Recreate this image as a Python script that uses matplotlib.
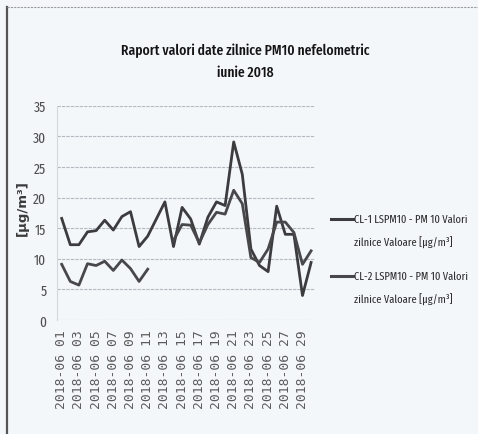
import numpy as np
import matplotlib
matplotlib.use("Agg")
import matplotlib.pyplot as plt
from matplotlib.lines import Line2D

plt.rcParams['font.family'] = ['Fira Sans Extra Condensed', 'DejaVu Sans']

# daily values, june 2018
days = list(range(1, 31))
cl1 = [16.6, 12.3, 12.3, 14.4, 14.6, 16.3, 14.7, 16.9, 17.7, 12.0,
       13.7, 16.5, 19.3, 12.0, 18.4, 16.5, 12.4, 16.8, 19.3, 18.7,
       29.1, 23.8, 11.6, 8.9, 7.9, 18.6, 14.0, 14.0, 4.0, 9.4]
cl2 = [9.1, 6.3, 5.7, 9.2, 8.9, 9.6, 8.1, 9.8, 8.4, 6.3,
       8.3, np.nan, np.nan, 13.0, 15.6, 15.5, 12.6, 15.6, 17.6, 17.3,
       21.2, 19.0, 10.2, 9.4, 11.6, 16.0, 16.0, 14.3, 9.1, 11.3]
tick_days = days[::2]
tick_labels = [f"2018-06 {d:02d}" for d in tick_days]
legend_labels = ["CL-1 LSPM10 - PM 10 Valori\nzilnice Valoare [\u00b5g/m\u00b3]",
                 "CL-2 LSPM10 - PM 10 Valori\nzilnice Valoare [\u00b5g/m\u00b3]"]
title = "Raport valori date zilnice PM10 nefelometric\niunie 2018"

W, H = 478, 435
bg = '#f4f7fa'
fig = plt.figure(figsize=(W / 100, H / 100), dpi=100, facecolor=bg)
ax = fig.add_axes([57.4 / W, 1 - 321 / H, 258 / W, 214.2 / H], facecolor=bg)

line_colors = ['#3c3c3e', '#48484b']
ax.plot(days, cl1, color=line_colors[0], linewidth=2.0)
ax.plot(days, cl2, color=line_colors[1], linewidth=2.0)

ax.set_xlim(0.5, 30.5)
ax.set_ylim(0, 35)
ax.set_yticks(range(0, 36, 5))
ax.yaxis.grid(True, color='#b4b9c2', linewidth=0.8, linestyle=(0, (3, 1)))
ax.set_axisbelow(True)
for s in ['top', 'right', 'bottom']:
    ax.spines[s].set_visible(False)
ax.spines['left'].set_color('#d3d6db')
ax.spines['left'].set_linewidth(0.8)
ax.tick_params(axis='both', length=0, colors='#505050')
ax.tick_params(axis='y', labelsize=10.5, pad=8)
ax.set_xticks(tick_days)
ax.set_xticklabels(tick_labels, rotation=90, fontsize=9.4,
                   family=['DejaVu Sans Mono'], color='#5a5a5a')
ax.tick_params(axis='x', pad=7)
ax.set_ylabel("[\u00b5g/m\u00b3]", fontsize=9.5, fontweight='bold',
              family=['DejaVu Sans'], color='#3a3a3a')
ax.yaxis.set_label_coords(-0.112, 0.527)

fig.text(245 / W, 1 - 62 / H, title, ha='center', va='center', fontsize=10.6,
         fontweight='medium', color='#141414', linespacing=1.65)

# legend drawn by hand so the handle sits on the first text line
legend_y = [220, 277]
for lbl, col, y in zip(legend_labels, line_colors, legend_y):
    yf = 1 - y / H
    first, second = lbl.split('\n')
    fig.add_artist(Line2D([331 / W, 353 / W], [yf, yf], color=col, linewidth=2.2))
    fig.text(354 / W, yf, first, ha='left', va='center', fontsize=8.2, color='#2e2e2e')
    fig.text(354 / W, yf - 23 / H, second, ha='left', va='center', fontsize=8.2,
             color='#2e2e2e')

# outer frame of the scanned chart
fig.add_artist(Line2D([7 / W, 7 / W], [0, 1 - 8 / H], color='#555555', linewidth=1.6))
fig.add_artist(Line2D([7 / W, 1], [1 - 8 / H, 1 - 8 / H], color='#9a9a9a',
                      linewidth=0.8, linestyle=(0, (2, 1))))

fig.savefig('out.png', dpi=100, facecolor=bg)
